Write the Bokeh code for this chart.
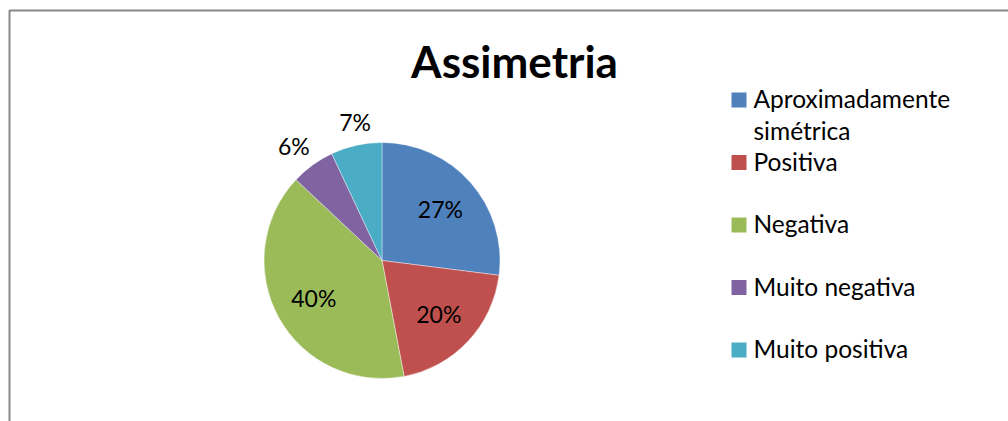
import math
from bokeh.plotting import figure
from bokeh.models import Range1d, ColumnDataSource
from bokeh.core.properties import value
from bokeh.embed import file_html
from bokeh.resources import INLINE

# Data
title_text = "Assimetria"
categories = ["Aproximadamente simétrica", "Positiva", "Negativa", "Muito negativa", "Muito positiva"]
percentages = [27, 20, 40, 6, 7]
colors = ["#4F81BD", "#C0504D", "#9BBB59", "#8064A2", "#4BACC6"]

W, H = 1008, 421
FONT = "Lato"

p = figure(width=W, height=H, output_backend="svg", toolbar_location=None,
           x_range=Range1d(0, W), y_range=Range1d(0, H), min_border=0)
p.axis.visible = False
p.grid.visible = False
p.outline_line_color = None
p.background_fill_color = "white"
p.border_fill_color = "white"

# Chart frame (top and left edges)
p.line(x=[9, 9, W + 5], y=[-5, H - 10, H - 10], line_color="#888888", line_width=2)

# Pie geometry
cx, cy, R = 381.5, H - 260.0, 118.0
total = float(sum(percentages))
starts, ends, mids = [], [], []
acc = 0.0
for v in percentages:
    f0 = acc / total
    acc += v
    f1 = acc / total
    # clockwise from 12 o'clock
    starts.append(math.pi / 2 - 2 * math.pi * f1)
    ends.append(math.pi / 2 - 2 * math.pi * f0)
    mids.append(math.pi / 2 - 2 * math.pi * (f0 + f1) / 2)

src = ColumnDataSource(dict(start=starts, end=ends, color=colors, cat=categories))
p.wedge(x=cx, y=cy, radius=R, start_angle="start", end_angle="end",
        direction="anticlock", fill_color="color", line_color="white",
        line_width=0.4, source=src)

# Data labels: inside for large slices, outside for small ones
lx, ly, lt = [], [], []
for v, a in zip(percentages, mids):
    r = 0.66 * R if v >= 10 else 1.2 * R
    dx = -5 if (v < 10 and math.cos(a) < -0.5) else (4 if v < 10 else 0)
    lx.append(cx + r * math.cos(a) + dx)
    ly.append(cy + r * math.sin(a))
    lt.append(f"{v}%")
p.text(x=lx, y=ly, text=lt, text_align="center", text_baseline="middle",
       text_font=value(FONT), text_font_size="23px", text_color="#000000")

# Title
p.text(x=[514], y=[H - 60], text=[title_text], text_align="center",
       text_baseline="middle", text_font=value(FONT), text_font_size="44px",
       text_font_style="bold", text_color="#000000")

# Legend
leg_x, base0, step, sq = 731, 106.5, 62.5, 15
disp = [c.replace(" ", "\n", 1) if len(c) > 16 else c for c in categories]
for i, (lab, col) in enumerate(zip(disp, colors)):
    b = base0 + i * step
    p.rect(x=leg_x + sq / 2, y=H - (b - sq / 2 + 0.5), width=sq, height=sq,
           fill_color=col, line_color=None)
    for k, line in enumerate(lab.split("\n")):
        p.text(x=[leg_x + 22], y=[H - (b + 31.5 * k - 8.5)], text=[line],
               text_align="left", text_baseline="middle", text_font=value(FONT),
               text_font_size="24.5px", text_color="#000000")

open("out.html", "w").write(file_html(p, INLINE))
